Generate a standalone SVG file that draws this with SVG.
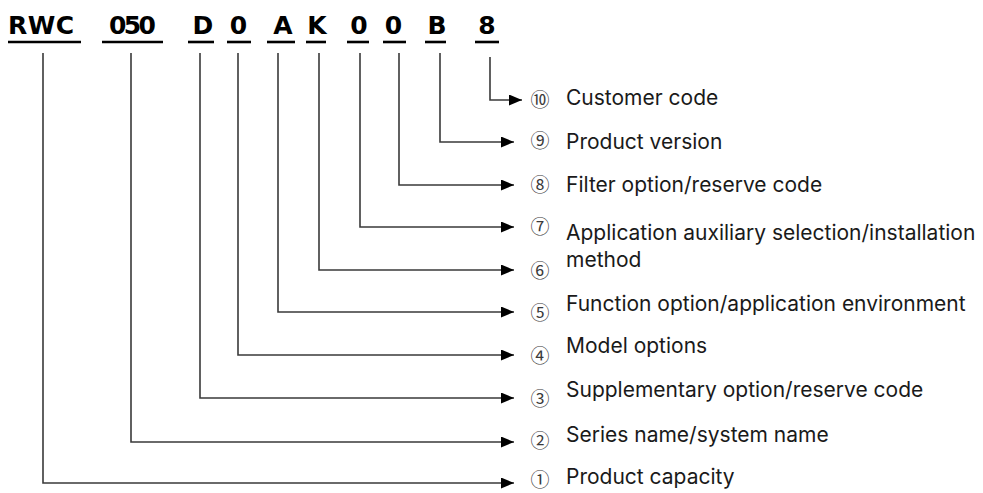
<svg xmlns="http://www.w3.org/2000/svg" width="983" height="493" viewBox="0 0 983 493">
<defs>
<marker id="ah" markerUnits="userSpaceOnUse" markerWidth="14" markerHeight="12" refX="13" refY="5.5" orient="auto">
<path d="M0,0 L13,5.5 L0,11 z" fill="#000"/>
</marker>
<style>
.code{font-family:"DejaVu Sans",sans-serif;font-weight:bold;font-size:25px;fill:#000;text-anchor:middle}
.ul{stroke:#000;stroke-width:2.6}
.num{font-family:"Noto Sans CJK SC","DejaVu Sans",sans-serif;font-size:19px;fill:#3a3a3a;text-anchor:middle}
.lbl{font-family:Inter,"Liberation Sans",sans-serif;font-size:21px;fill:#1a1a1a}
.cn{fill:none;stroke:#3a3a3a;stroke-width:1.6;marker-end:url(#ah)}
</style>
</defs>
<rect width="983" height="493" fill="#fff"/>

<g id="code-RWC"><text class="code" x="41" y="34" textLength="66" lengthAdjust="spacing">RWC</text><line class="ul" x1="8" y1="42" x2="81" y2="42"/></g>
<g id="code-050"><text class="code" x="132.5" y="34" textLength="47" lengthAdjust="spacing">050</text><line class="ul" x1="102" y1="42" x2="163" y2="42"/></g>
<g id="code-D"><text class="code" x="203" y="34">D</text><line class="ul" x1="188" y1="42" x2="214" y2="42"/></g>
<g id="code-0a"><text class="code" x="238.5" y="34">0</text><line class="ul" x1="227" y1="42" x2="251" y2="42"/></g>
<g id="code-A"><text class="code" x="283" y="34">A</text><line class="ul" x1="267" y1="42" x2="295" y2="42"/></g>
<g id="code-K"><text class="code" x="317" y="34">K</text><line class="ul" x1="306" y1="42" x2="326" y2="42"/></g>
<g id="code-0b"><text class="code" x="359" y="34">0</text><line class="ul" x1="347" y1="42" x2="369" y2="42"/></g>
<g id="code-0c"><text class="code" x="393.5" y="34">0</text><line class="ul" x1="383" y1="42" x2="406" y2="42"/></g>
<g id="code-B"><text class="code" x="437" y="34">B</text><line class="ul" x1="425" y1="42" x2="446" y2="42"/></g>
<g id="code-8"><text class="code" x="487" y="34">8</text><line class="ul" x1="475" y1="42" x2="499" y2="42"/></g>

<g id="connectors">
<path class="cn" d="M490,57 V100 H522"/>
<path class="cn" d="M440,53 V142 H514"/>
<path class="cn" d="M399,53 V185 H514"/>
<path class="cn" d="M360,53 V227 H514"/>
<path class="cn" d="M319,53 V270 H514"/>
<path class="cn" d="M278,53 V312 H514"/>
<path class="cn" d="M238,53 V355 H514"/>
<path class="cn" d="M200,53 V398 H514"/>
<path class="cn" d="M131,53 V442 H514"/>
<path class="cn" d="M43,53 V483 H514"/>
</g>

<g id="label-10"><text class="num" x="540" y="107">⑩</text><text class="lbl" x="566" y="105">Customer code</text></g>
<g id="label-9"><text class="num" x="540" y="148">⑨</text><text class="lbl" x="566" y="149">Product version</text></g>
<g id="label-8"><text class="num" x="540" y="192">⑧</text><text class="lbl" x="566" y="192">Filter option/reserve code</text></g>
<g id="label-7"><text class="num" x="540" y="234">⑦</text><text class="lbl" x="566" y="240">Application auxiliary selection/installation</text><text class="lbl" x="566" y="267">method</text></g>
<g id="label-6"><text class="num" x="540" y="278">⑥</text></g>
<g id="label-5"><text class="num" x="540" y="320">⑤</text><text class="lbl" x="566" y="311">Function option/application environment</text></g>
<g id="label-4"><text class="num" x="540" y="363">④</text><text class="lbl" x="566" y="353">Model options</text></g>
<g id="label-3"><text class="num" x="540" y="406">③</text><text class="lbl" x="566" y="397">Supplementary option/reserve code</text></g>
<g id="label-2"><text class="num" x="540" y="448">②</text><text class="lbl" x="566" y="442">Series name/system name</text></g>
<g id="label-1"><text class="num" x="540" y="487">①</text><text class="lbl" x="566" y="484">Product capacity</text></g>
</svg>
